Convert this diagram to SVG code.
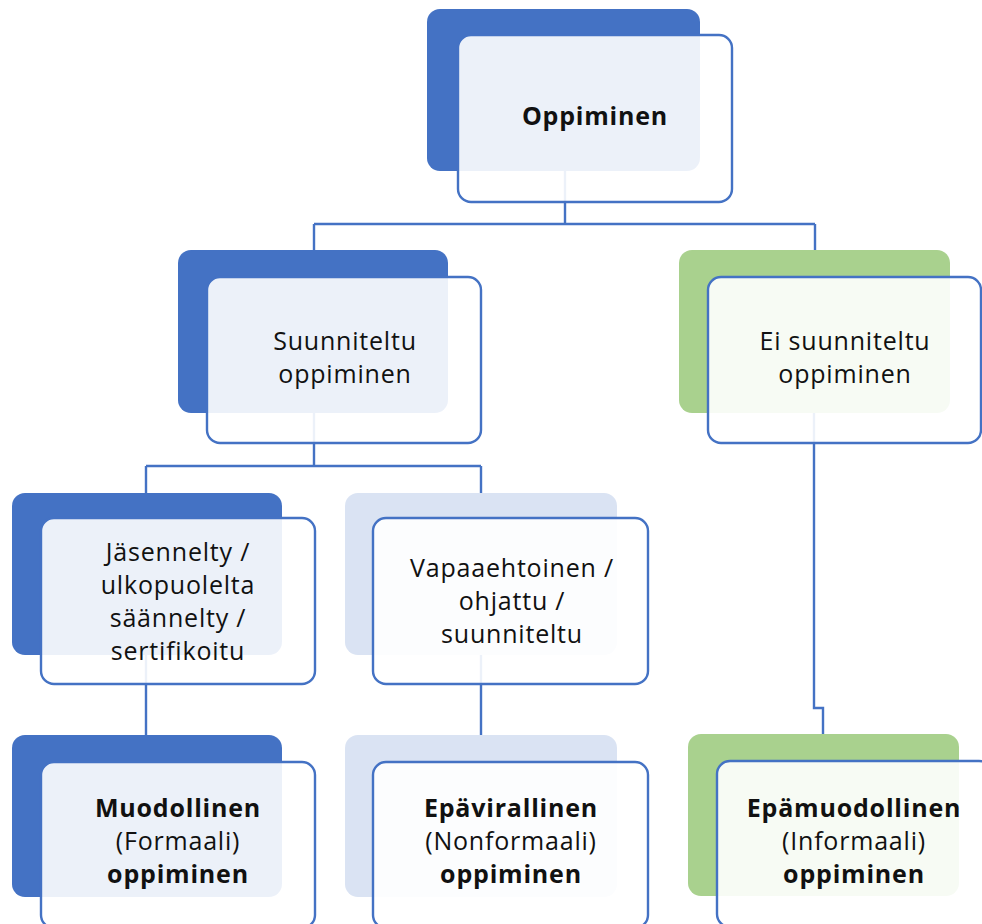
<svg xmlns="http://www.w3.org/2000/svg" width="982" height="924" viewBox="0 0 982 924">
<style>
.bg{fill:#ffffff}
.b1{fill:#4472C4}
.b2{fill:#DAE3F3}
.b3{fill:#A9D18E}
.fr{fill:#ffffff;fill-opacity:0.9;stroke:#4472C4;stroke-width:2.4}
.cn{fill:none;stroke:#4472C4;stroke-width:2.4}
text{font-family:"Open Sans","Noto Sans","DejaVu Sans",sans-serif;font-size:25px;letter-spacing:0.8px;fill:#111111;text-anchor:middle}
.bd{font-weight:bold}
</style>
<rect class="bg" x="0" y="0" width="982" height="924"/>
<g id="connectors">
<path class="cn" d="M565,120 V224 M314,224 H815 M314,224 V300 M815,224 V300"/>
<path class="cn" d="M314,400 V466 M146,466 H481 M146,466 V540 M481,466 V540"/>
<path class="cn" d="M146,600 V790 M481,600 V790"/>
<path class="cn" d="M814,400 V708 H823 V790"/>
</g>
<g id="oppiminen">
<rect class="b1" x="427" y="9" width="273" height="162" rx="13"/>
<rect class="fr" x="458" y="35" width="274" height="167" rx="13"/>
<text class="bd" x="595" y="125">Oppiminen</text>
</g>
<g id="suunniteltu">
<rect class="b1" x="178" y="250" width="270" height="163" rx="13"/>
<rect class="fr" x="207" y="277" width="274" height="166" rx="13"/>
<text x="345" y="350">Suunniteltu</text>
<text x="345" y="383">oppiminen</text>
</g>
<g id="ei-suunniteltu">
<rect class="b3" x="679" y="250" width="271" height="163" rx="13"/>
<rect class="fr" x="708" y="277" width="273" height="166" rx="13"/>
<text x="845" y="350">Ei suunniteltu</text>
<text x="845" y="383">oppiminen</text>
</g>
<g id="jasennelty">
<rect class="b1" x="12" y="493" width="270" height="162" rx="13"/>
<rect class="fr" x="41" y="518" width="274" height="166" rx="13"/>
<text x="178" y="561">Jäsennelty /</text>
<text x="178" y="594">ulkopuolelta</text>
<text x="178" y="627">säännelty /</text>
<text x="178" y="660">sertifikoitu</text>
</g>
<g id="vapaaehtoinen">
<rect class="b2" x="345" y="493" width="272" height="162" rx="13"/>
<rect class="fr" x="373" y="518" width="275" height="166" rx="13"/>
<text x="512" y="577">Vapaaehtoinen /</text>
<text x="512" y="610">ohjattu /</text>
<text x="512" y="643">suunniteltu</text>
</g>
<g id="muodollinen">
<rect class="b1" x="12" y="735" width="270" height="162" rx="13"/>
<rect class="fr" x="41" y="762" width="274" height="166" rx="13"/>
<text class="bd" x="178" y="817">Muodollinen</text>
<text x="178" y="850">(Formaali)</text>
<text class="bd" x="178" y="883">oppiminen</text>
</g>
<g id="epavirallinen">
<rect class="b2" x="345" y="735" width="272" height="162" rx="13"/>
<rect class="fr" x="373" y="762" width="275" height="166" rx="13"/>
<text class="bd" x="511" y="817">Epävirallinen</text>
<text x="511" y="850">(Nonformaali)</text>
<text class="bd" x="511" y="883">oppiminen</text>
</g>
<g id="epamuodollinen">
<rect class="b3" x="688" y="734" width="271" height="162" rx="13"/>
<rect class="fr" x="717" y="761" width="275" height="166" rx="13"/>
<text class="bd" x="854" y="817">Epämuodollinen</text>
<text x="854" y="850">(Informaali)</text>
<text class="bd" x="854" y="883">oppiminen</text>
</g>
</svg>
